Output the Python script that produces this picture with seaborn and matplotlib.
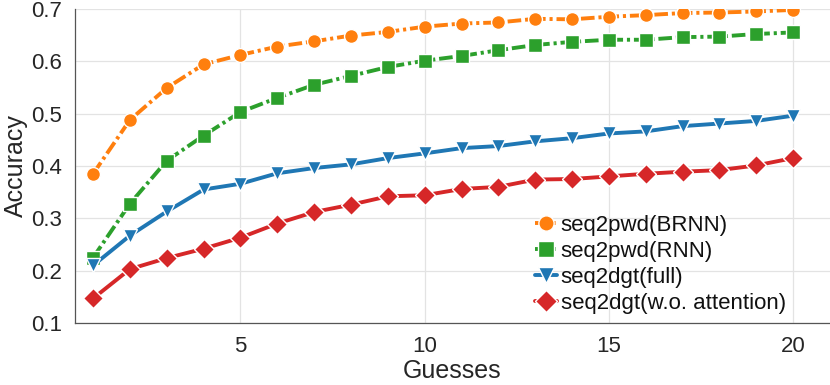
import numpy as np
import pandas as pd
import matplotlib
matplotlib.use("Agg")
import matplotlib.pyplot as plt
import seaborn as sns

guesses = list(range(1, 21))
brnn = [0.385, 0.488, 0.549, 0.594, 0.612, 0.628, 0.638, 0.649, 0.656, 0.666,
        0.672, 0.674, 0.681, 0.680, 0.685, 0.688, 0.692, 0.693, 0.695, 0.698]
rnn = [0.225, 0.328, 0.410, 0.458, 0.503, 0.530, 0.555, 0.572, 0.589, 0.601,
       0.610, 0.621, 0.631, 0.637, 0.641, 0.641, 0.646, 0.647, 0.652, 0.655]
full = [0.210, 0.267, 0.313, 0.355, 0.366, 0.386, 0.396, 0.403, 0.415, 0.424,
        0.434, 0.438, 0.447, 0.453, 0.462, 0.466, 0.476, 0.481, 0.486, 0.496]
noatt = [0.147, 0.203, 0.224, 0.242, 0.263, 0.290, 0.312, 0.326, 0.342, 0.344,
         0.356, 0.360, 0.374, 0.375, 0.380, 0.385, 0.389, 0.392, 0.401, 0.415]
labels = ["seq2pwd(BRNN)", "seq2pwd(RNN)", "seq2dgt(full)", "seq2dgt(w.o. attention)"]
x_ticks = [5, 10, 15, 20]
y_ticks = [0.1, 0.2, 0.3, 0.4, 0.5, 0.6, 0.7]

df = pd.DataFrame({
    "Guesses": guesses * 4,
    "Accuracy": brnn + rnn + full + noatt,
    "Model": sum([[l] * len(guesses) for l in labels], []),
})

sns.set_style("whitegrid")
plt.rcParams["font.family"] = ["Liberation Sans", "DejaVu Sans"]

colors = ["#ff7f0e", "#2ca02c", "#1f77b4", "#d62728"]
palette = dict(zip(labels, colors))
markers = dict(zip(labels, ["o", "s", "v", "D"]))
dashes = dict(zip(labels, [(3.5, 1, 0.8, 1), (3.5, 1, 0.8, 1), "", ""]))

fig = plt.figure(figsize=(8.3, 3.85), dpi=100)
ax = fig.add_axes([0.09, 0.161, 0.91, 0.816])

sns.lineplot(data=df, x="Guesses", y="Accuracy", hue="Model", style="Model",
             palette=palette, markers=markers, dashes=dashes, linewidth=2.8,
             markersize=10, markeredgewidth=1, ax=ax, legend=True)

ax.set_xlim(0.5, 21)
ax.set_ylim(0.1, 0.7)
ax.set_xticks(x_ticks)
ax.set_yticks(y_ticks)
ax.set_yticklabels([f"{v:.1f}" for v in y_ticks])
ax.grid(True, color="#e3e3e3", linewidth=0.9)
ax.set_axisbelow(True)
for s in ["top", "right"]:
    ax.spines[s].set_visible(False)
for s in ["left", "bottom"]:
    ax.spines[s].set_color("#555555")
    ax.spines[s].set_linewidth(0.9)
ax.tick_params(axis="both", direction="in", length=4, width=0.8, color="#555555",
               labelsize=16, labelcolor="#262626", pad=9)
ax.set_xlabel("Guesses", fontsize=18, color="#262626", labelpad=2)
ax.set_ylabel("Accuracy", fontsize=18, color="#262626", labelpad=2)

handles, lbls = ax.get_legend_handles_labels()
leg = ax.legend(handles, lbls, loc="upper left", bbox_to_anchor=(535 / 830, 1 - 215 / 385),
                bbox_transform=fig.transFigure, frameon=False, fontsize=16,
                handlelength=1.0, handletextpad=0.15, labelspacing=0.22, borderpad=0,
                borderaxespad=0, markerscale=1.1)
for t in leg.get_texts():
    t.set_color("#111111")

fig.savefig("out.png", dpi=100)
